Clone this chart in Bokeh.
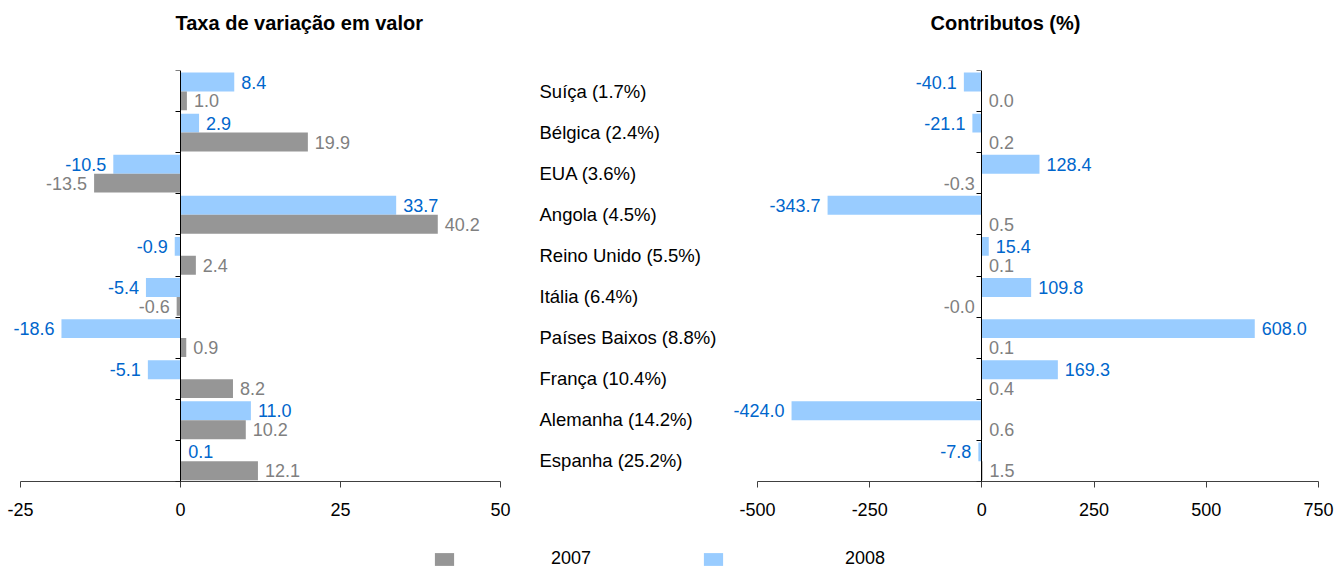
import numpy as np
from bokeh.plotting import figure
from bokeh.models import (ColumnDataSource, Range1d, LinearAxis, FixedTicker,
                          LabelSet, Legend, LegendItem)
from bokeh.layouts import column, row
from bokeh.embed import file_html
from bokeh.resources import INLINE
from bokeh.core.properties import value

# ---------------- data (top to bottom) ----------------
categories = ["Suíça (1.7%)", "Bélgica (2.4%)", "EUA (3.6%)", "Angola (4.5%)",
              "Reino Unido (5.5%)", "Itália (6.4%)", "Países Baixos  (8.8%)",
              "França (10.4%)", "Alemanha (14.2%)", "Espanha (25.2%)"]
var_2007 = [1.0, 19.9, -13.5, 40.2, 2.4, -0.6, 0.9, 8.2, 10.2, 12.1]
var_2008 = [8.4, 2.9, -10.5, 33.7, -0.9, -5.4, -18.6, -5.1, 11.0, 0.1]
contrib_2007 = [0.0, 0.2, -0.3, 0.5, 0.1, -0.02, 0.1, 0.4, 0.6, 1.5]
contrib_2008 = [-40.1, -21.1, 128.4, -343.7, 15.4, 109.8, 608.0, 169.3, -424.0, -7.8]
years = ["2007", "2008"]
left_ticks = [-25, 0, 25, 50]
left_tick_labels = ["-25", "0", "25", "50"]
right_ticks = [-500, -250, 0, 250, 500, 750]
right_tick_labels = ["-500", "-250", "0", "250", "500", "750"]
titles = ["Taxa de variação em valor", "Contributos (%)"]

# ---------------- style / layout ----------------
FONT = "Liberation Sans"
GRAY = "#969696"
BLUE = "#99CCFF"
GRAY_TXT = "#808080"
BLUE_TXT = "#0066CC"
LBL_SIZE = "18px"
W = 1336
TH = 44            # title strip height
H = 486            # chart row height
LH = 40            # legend strip height
BT, BB = 26, 49
WL, WM, WR = 530, 196, 610

n = len(categories)
row_idx = np.arange(n)[::-1].astype(float)
y08 = row_idx + 0.72
y07 = row_idx + 0.26
BAR_H = 0.46


def add_labels(p, vals, ys, color):
    vals = np.asarray(vals, dtype=float)
    neg = np.signbit(vals)
    for mask, align, off in ((~neg, "left", 7), (neg, "right", -7)):
        src = ColumnDataSource(dict(
            x=vals[mask].tolist(), y=np.asarray(ys)[mask].tolist(),
            text=[f"{v:.1f}" for v in vals[mask]]))
        p.add_layout(LabelSet(x="x", y="y", text="text", source=src,
                              x_offset=off, text_align=align,
                              text_baseline="middle", text_font=value(FONT),
                              text_font_size=LBL_SIZE, text_color=color))


def make_chart(xr, ticks, tick_labels, v07, v08, width, bl, br):
    p = figure(width=width, height=H, x_range=Range1d(*xr),
               y_range=Range1d(0, n), x_axis_type=None, y_axis_type=None,
               toolbar_location=None, output_backend="svg",
               min_border_left=bl, min_border_right=br,
               min_border_top=BT, min_border_bottom=BB,
               outline_line_color=None)
    p.title.standoff = 0

    p.hbar(y=y08, left=0, right=v08, height=BAR_H, fill_color=BLUE, line_color=None)
    p.hbar(y=y07, left=0, right=v07, height=BAR_H, fill_color=GRAY, line_color=None)

    xa = LinearAxis(ticker=FixedTicker(ticks=ticks), bounds=(ticks[0], ticks[-1]),
                    major_label_overrides=dict(zip(ticks, tick_labels)),
                    axis_line_color="#404040", major_tick_line_color="#404040",
                    major_tick_in=0, major_tick_out=6, minor_tick_line_color=None,
                    major_label_text_font=FONT, major_label_text_font_size=LBL_SIZE,
                    major_label_text_color="black", major_label_standoff=15)
    p.add_layout(xa, "below")
    ya = LinearAxis(ticker=FixedTicker(ticks=list(range(n + 1))), fixed_location=0,
                    axis_line_color="black", major_tick_line_color="black",
                    major_tick_in=0, major_tick_out=5, minor_tick_line_color=None,
                    major_label_text_font_size="0px", major_label_text_alpha=0,
                    major_label_standoff=0)
    p.add_layout(ya, "left")

    add_labels(p, v08, y08, BLUE_TXT)
    add_labels(p, v07, y07, GRAY_TXT)
    return p


pL = make_chart((-27.5, 50), left_ticks, left_tick_labels, var_2007, var_2008, WL, 4, 30)
pR = make_chart((-560, 750), right_ticks, right_tick_labels, contrib_2007, contrib_2008,
                WR, 4, 18)

pM = figure(width=WM, height=H, x_range=Range1d(0, 1), y_range=Range1d(0, n),
            x_axis_type=None, y_axis_type=None, toolbar_location=None,
            output_backend="svg", min_border_left=0, min_border_right=0,
            min_border_top=BT, min_border_bottom=BB, outline_line_color=None)
pM.title.standoff = 0
pM.text(x=0, y=row_idx + 0.5, text=categories, x_offset=9, text_align="left",
        text_baseline="middle", text_font=value(FONT), text_font_size="18.5px",
        text_color="black")

# title strip (pixel coordinates, y downwards)
pT = figure(width=W, height=TH, x_range=Range1d(0, W), y_range=Range1d(TH, 0),
            x_axis_type=None, y_axis_type=None, toolbar_location=None,
            output_backend="svg", min_border=0, outline_line_color=None)
pT.title.standoff = 0
pT.text(x=[175, 930], y=[22, 22], text=titles, text_align="left",
        text_baseline="middle", text_font=value(FONT), text_font_size="20px",
        text_font_style="bold", text_color="black")

# legend strip
pLeg = figure(width=W, height=LH, x_range=Range1d(0, 1), y_range=Range1d(0, 1),
              x_axis_type=None, y_axis_type=None, toolbar_location=None,
              output_backend="svg", min_border=0, outline_line_color=None)
pLeg.title.standoff = 0
r07 = pLeg.hbar(y=y07, left=0, right=var_2007, height=BAR_H, fill_color=GRAY,
                line_color=None, visible=False)
r08 = pLeg.hbar(y=y08, left=0, right=var_2008, height=BAR_H, fill_color=BLUE,
                line_color=None, visible=False)
for yr, rend, loc, standoff in ((years[0], r07, (432, 1), 95),
                                (years[1], r08, (701, 1), 120)):
    pLeg.add_layout(Legend(items=[LegendItem(label=yr, renderers=[rend])],
                           orientation="horizontal", location=loc,
                           glyph_width=24, glyph_height=16, label_standoff=standoff,
                           padding=0, margin=0, border_line_color=None,
                           background_fill_alpha=0, inactive_fill_alpha=0,
                           label_text_font=FONT, label_text_color="black",
                           label_text_font_size=LBL_SIZE, label_height=16),
                    "center")

layout = column(pT, row(pL, pM, pR), pLeg)
open("out.html", "w").write(file_html(layout, INLINE))
